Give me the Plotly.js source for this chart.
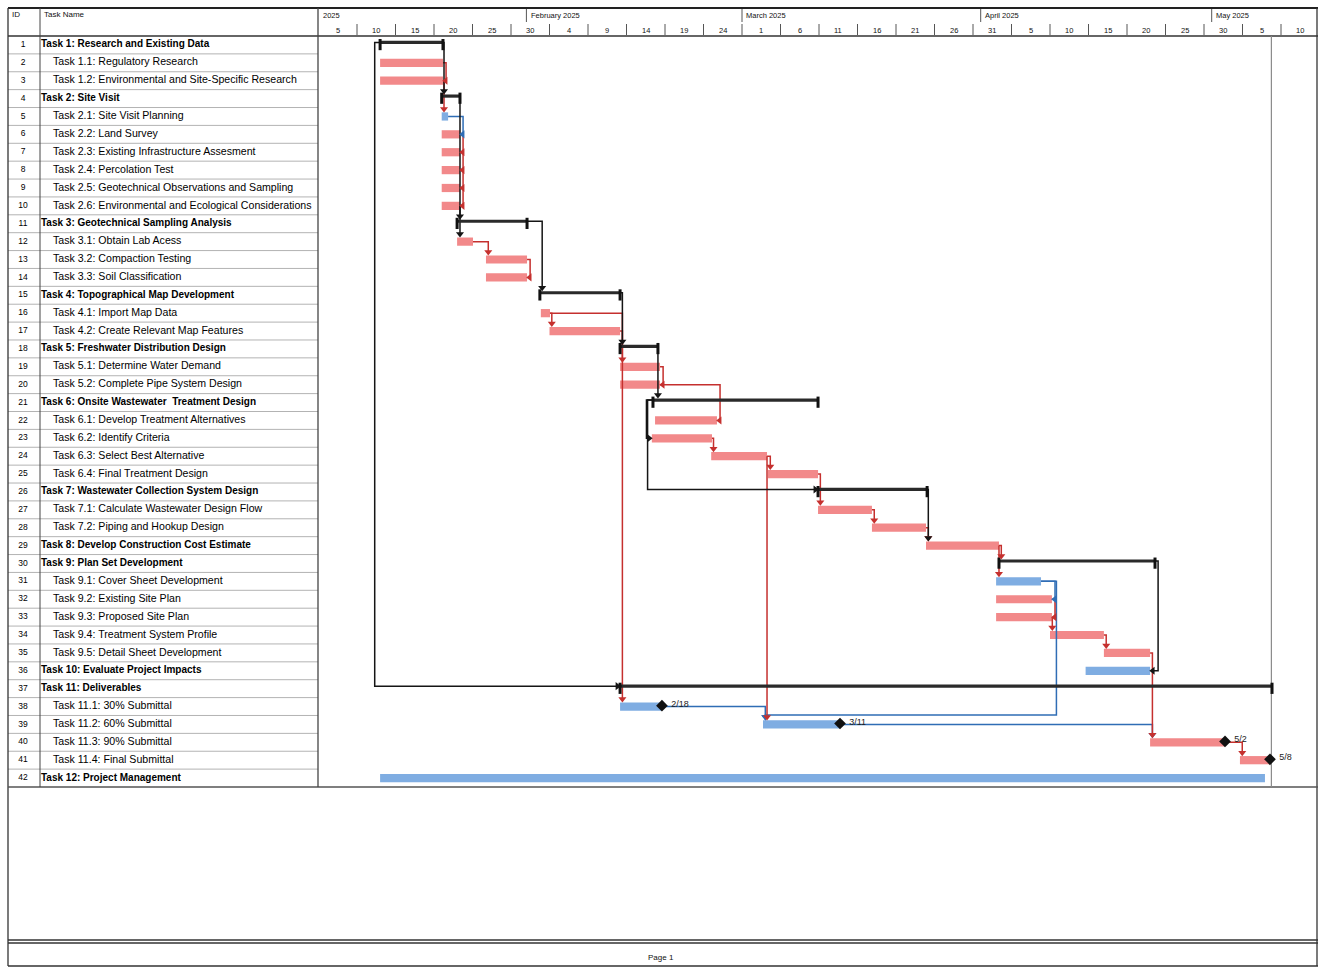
<!DOCTYPE html>
<html>
<head>
<meta charset="utf-8">
<script src="https://cdn.plot.ly/plotly-3.0.1.min.js"></script>
<style>
html,body{margin:0;padding:0;background:#ffffff;}
#chart{width:1318px;height:967px;}
</style>
</head>
<body>
<div id="chart"></div>
<script>
// ---------------- DATA ----------------
const taskIds = [1,2,3,4,5,6,7,8,9,10,11,12,13,14,15,16,17,18,19,20,21,22,23,24,25,26,27,28,29,30,31,32,33,34,35,36,37,38,39,40,41,42];

const taskNames = [
  'Task 1: Research and Existing Data',
  'Task 1.1: Regulatory Research',
  'Task 1.2: Environmental and Site-Specific Research',
  'Task 2: Site Visit',
  'Task 2.1: Site Visit Planning',
  'Task 2.2: Land Survey',
  'Task 2.3: Existing Infrastructure Assesment',
  'Task 2.4: Percolation Test',
  'Task 2.5: Geotechnical Observations and Sampling',
  'Task 2.6: Environmental and Ecological Considerations',
  'Task 3: Geotechnical Sampling Analysis',
  'Task 3.1: Obtain Lab Acess',
  'Task 3.2: Compaction Testing',
  'Task 3.3: Soil Classification',
  'Task 4: Topographical Map Development',
  'Task 4.1: Import Map Data',
  'Task 4.2: Create Relevant Map Features',
  'Task 5: Freshwater Distribution Design',
  'Task 5.1: Determine Water Demand',
  'Task 5.2: Complete Pipe System Design',
  'Task 6: Onsite Wastewater  Treatment Design',
  'Task 6.1: Develop Treatment Alternatives',
  'Task 6.2: Identify Criteria',
  'Task 6.3: Select Best Alternative',
  'Task 6.4: Final Treatment Design',
  'Task 7: Wastewater Collection System Design',
  'Task 7.1: Calculate Wastewater Design Flow',
  'Task 7.2: Piping and Hookup Design',
  'Task 8: Develop Construction Cost Estimate',
  'Task 9: Plan Set Development',
  'Task 9.1: Cover Sheet Development',
  'Task 9.2: Existing Site Plan',
  'Task 9.3: Proposed Site Plan',
  'Task 9.4: Treatment System Profile',
  'Task 9.5: Detail Sheet Development',
  'Task 10: Evaluate Project Impacts',
  'Task 11: Deliverables',
  'Task 11.1: 30% Submittal',
  'Task 11.2: 60% Submittal',
  'Task 11.3: 90% Submittal',
  'Task 11.4: Final Submittal',
  'Task 12: Project Management'
];

// 0 = top level (bold), 1 = subtask (indented)
const taskLevels = [0,1,1,0,1,1,1,1,1,1,0,1,1,1,0,1,1,0,1,1,0,1,1,1,1,0,1,1,0,0,1,1,1,1,1,0,0,1,1,1,1,0];

// s = summary, c = critical task, n = non-critical task
const taskTypes = ['s','c','c','s','n','c','c','c','c','c','s','c','c','c','s','c','c','s','c','c','s','c','c','c','c','s','c','c','c','s','n','c','c','c','c','n','s','n','n','c','c','n'];

const taskStarts = [
  '2025-01-13 00:00','2025-01-13 00:00','2025-01-13 00:00',
  '2025-01-21 00:00','2025-01-21 00:00','2025-01-21 00:00','2025-01-21 00:00','2025-01-21 00:00','2025-01-21 00:00','2025-01-21 00:00',
  '2025-01-23 00:00','2025-01-23 00:00','2025-01-26 18:00','2025-01-26 18:00',
  '2025-02-02 18:00','2025-02-02 21:00','2025-02-04 00:00',
  '2025-02-13 04:00','2025-02-13 04:00','2025-02-13 04:00',
  '2025-02-17 10:30','2025-02-17 17:00','2025-02-17 07:00','2025-02-25 00:00','2025-03-04 09:00',
  '2025-03-10 21:00','2025-03-10 21:00','2025-03-17 21:00',
  '2025-03-24 21:30',
  '2025-04-03 09:00','2025-04-03 00:00','2025-04-03 00:00','2025-04-03 00:00','2025-04-10 00:00','2025-04-17 00:00',
  '2025-04-14 15:00',
  '2025-02-13 04:00','2025-02-13 04:00','2025-03-03 17:30','2025-04-23 00:00','2025-05-04 16:00',
  '2025-01-13 00:00'
];

const taskFinishes = [
  '2025-01-21 04:00','2025-01-21 04:00','2025-01-21 04:00',
  '2025-01-23 09:00','2025-01-21 20:00','2025-01-23 09:00','2025-01-23 09:00','2025-01-23 09:00','2025-01-23 09:00','2025-01-23 09:00',
  '2025-02-01 02:00','2025-01-25 01:30','2025-02-01 02:00','2025-02-01 02:00',
  '2025-02-13 04:00','2025-02-04 01:30','2025-02-13 04:00',
  '2025-02-18 02:00','2025-02-18 08:30','2025-02-18 08:30',
  '2025-03-10 21:00','2025-02-25 18:00','2025-02-25 02:30','2025-03-04 06:00','2025-03-10 21:00',
  '2025-03-25 01:00','2025-03-17 21:00','2025-03-24 21:30',
  '2025-04-03 09:00',
  '2025-04-23 15:20','2025-04-08 20:00','2025-04-10 06:00','2025-04-10 06:00','2025-04-17 00:00','2025-04-23 00:00',
  '2025-04-23 00:00',
  '2025-05-08 20:00','2025-02-18 14:30','2025-03-13 17:30','2025-05-02 17:30','2025-05-08 13:40',
  '2025-05-07 22:00'
];

const milestoneTasks  = [38, 39, 40, 41];
const milestoneLabels = ['2/18', '3/11', '5/2', '5/8'];

// dependency links: from task, to task, type, colour class (r critical, b non-critical, k summary)
const linkFrom  = [1, 2, 3, 5, 6, 7, 8, 9, 4, 10, 12, 13, 11, 16, 16, 15, 17, 19, 18, 20, 21, 21, 23, 24, 24, 25, 27, 26, 28, 29, 29, 31, 31, 32, 33, 34, 30, 35, 39, 38, 40, 1];
const linkTo    = [4, 3, 5, 6, 7, 8, 9, 10, 11, 12, 13, 14, 15, 17, 19, 18, 38, 20, 21, 22, 23, 26, 24, 25, 39, 27, 28, 29, 29, 30, 31, 39, 32, 33, 34, 35, 36, 40, 40, 39, 41, 37];
const linkTypes = ['FS','FF','FS','FF','FF','FF','FF','FF','FS','FS','FS','FF','FS','FS','FS','FS','FS','FF','FS','FF','SS','SS','FS','FS','FS','FS','FS','FS','FS','FS','FS','FS','FF','FF','FS','FS','FF','FS','FS','FS','FS','SS'];
const linkColors = ['k','r','r','b','r','r','r','r','k','k','r','r','k','r','r','k','r','r','k','r','k','k','r','r','r','r','r','k','r','r','r','b','b','r','r','r','k','r','b','b','r','k'];

// timescale
const dayTicks  = ['2025-01-05','2025-01-10','2025-01-15','2025-01-20','2025-01-25','2025-01-30','2025-02-04','2025-02-09','2025-02-14','2025-02-19','2025-02-24','2025-03-01','2025-03-06','2025-03-11','2025-03-16','2025-03-21','2025-03-26','2025-03-31','2025-04-05','2025-04-10','2025-04-15','2025-04-20','2025-04-25','2025-04-30','2025-05-05','2025-05-10'];
const dayLabels = ['5','10','15','20','25','30','4','9','14','19','24','1','6','11','16','21','26','31','5','10','15','20','25','30','5','10'];
const monthStarts = ['2025-01-05','2025-02-01','2025-03-01','2025-04-01','2025-05-01'];
const monthLabels = ['2025','February 2025','March 2025','April 2025','May 2025'];
const viewRange = ['2025-01-04 22:27','2025-05-14 19:19'];
const finishLineDate = '2025-05-08 18:00';

// ---------------- HELPERS ----------------
const W = 1318, H = 967;
const px = x => x / W;
const py = y => 1 - y / H;
const DAY = 86400000;
const FONT = 'Liberation Sans, Arial, sans-serif';
const COL = {r:'#C5302E', b:'#2F6DB5', k:'#151515'};
const BAR_RED = '#F2898A', BAR_BLUE = '#7FADE2';

function toMs(s){
  const [d,t] = s.split(' ');
  const [Y,M,D] = d.split('-').map(Number);
  const [h,m] = (t || '00:00').split(':').map(Number);
  return Date.UTC(Y, M-1, D, h, m);
}
function toStr(ms){ return new Date(ms).toISOString().slice(0,19).replace('T',' '); }

const N = taskIds.length;
const sMs = taskStarts.map(toMs), fMs = taskFinishes.map(toMs);
const idx = id => id - 1;
const isSum = id => taskTypes[idx(id)] === 's';
const lineY = id => isSum(id) ? id - 0.14 : id;

const traces = [];

// ---------------- TASK BARS ----------------
const barY = [], barBase = [], barLen = [], barCol = [];
for (let k = 0; k < N; k++){
  if (taskTypes[k] === 's') continue;
  barY.push(taskIds[k]);
  barBase.push(taskStarts[k]);
  barLen.push(fMs[k] - sMs[k]);
  barCol.push(taskTypes[k] === 'c' ? BAR_RED : BAR_BLUE);
}
traces.push({
  type:'bar', orientation:'h', y:barY, base:barBase, x:barLen, width:0.46,
  marker:{color:barCol, line:{width:0}}, hoverinfo:'skip', xaxis:'x', yaxis:'y'
});

// ---------------- LINKS ----------------
const offFS = 0.3*DAY, tolFS = 0.8*DAY, offFF = 0.4*DAY, offSS = 0.7*DAY, offBack = 2*DAY, tipGap = 0.35*DAY;
const linkLines = {r:{x:[],y:[]}, b:{x:[],y:[]}, k:{x:[],y:[]}};
const arrows = {r:{x:[],y:[],s:[]}, b:{x:[],y:[],s:[]}, k:{x:[],y:[],s:[]}};
for (let j = 0; j < linkFrom.length; j++){
  const a = linkFrom[j], b = linkTo[j], c = linkColors[j];
  const pr = lineY(a), sr = lineY(b);
  const ps = sMs[idx(a)], pe = fMs[idx(a)], ss = sMs[idx(b)], se = fMs[idx(b)];
  let pts = [], tip, sym;
  if (linkTypes[j] === 'FS'){
    if (ss >= pe - tolFS){
      const X = Math.max(ss + offFS, pe);
      pts = [[pe,pr],[X,pr],[X,b-0.42]];
      tip = [X,b-0.42]; sym = 'triangle-down';
    } else {
      const X1 = pe + offBack, X2 = ss + offFS;
      pts = [[pe,pr],[X1,pr],[X1,b-0.52],[X2,b-0.52],[X2,b-0.42]];
      tip = [X2,b-0.42]; sym = 'triangle-down';
    }
  } else if (linkTypes[j] === 'FF'){
    const X = Math.max(pe, se) + offFF;
    pts = [[pe,pr],[X,pr],[X,sr],[se+tipGap,sr]];
    tip = [se+tipGap,sr]; sym = 'triangle-left';
  } else {
    const X = Math.min(ps, ss) - offSS;
    pts = [[ps,pr],[X,pr],[X,sr],[ss-tipGap,sr]];
    tip = [ss-tipGap,sr]; sym = 'triangle-right';
  }
  pts.forEach(p => { linkLines[c].x.push(toStr(p[0])); linkLines[c].y.push(p[1]); });
  linkLines[c].x.push(null); linkLines[c].y.push(null);
  arrows[c].x.push(toStr(tip[0])); arrows[c].y.push(tip[1]); arrows[c].s.push(sym);
}
['b','r','k'].forEach(c => {
  traces.push({type:'scatter', mode:'lines', x:linkLines[c].x, y:linkLines[c].y, connectgaps:false,
    line:{color:COL[c], width:1.5}, hoverinfo:'skip', xaxis:'x', yaxis:'y'});
});

// ---------------- SUMMARY BARS ----------------
const sumX = [], sumY = [], capX = [], capY = [];
for (let k = 0; k < N; k++){
  if (taskTypes[k] !== 's') continue;
  sumX.push(taskStarts[k], taskFinishes[k], null);
  sumY.push(taskIds[k]-0.14, taskIds[k]-0.14, null);
  capX.push(taskStarts[k], taskFinishes[k]);
  capY.push(taskIds[k]-0.02, taskIds[k]-0.02);
}
traces.push({type:'scatter', mode:'lines', x:sumX, y:sumY, line:{color:'#2a2a2a', width:3.2}, hoverinfo:'skip', xaxis:'x', yaxis:'y'});
traces.push({type:'scatter', mode:'markers', x:capX, y:capY,
  marker:{symbol:'line-ns', size:8, line:{color:'#111', width:3}}, hoverinfo:'skip', xaxis:'x', yaxis:'y'});

// arrow heads
['b','r','k'].forEach(c => {
  traces.push({type:'scatter', mode:'markers', x:arrows[c].x, y:arrows[c].y,
    marker:{symbol:arrows[c].s, size:7, color:COL[c]}, hoverinfo:'skip', xaxis:'x', yaxis:'y'});
});

// ---------------- MILESTONES ----------------
traces.push({
  type:'scatter', mode:'markers',
  x: milestoneTasks.map(id => taskFinishes[idx(id)]),
  y: milestoneTasks.map(id => id - 0.05),
  marker:{symbol:'diamond', size:9, color:'#111'},
  cliponaxis:false, hoverinfo:'skip', xaxis:'x', yaxis:'y'
});
traces.push({
  type:'scatter', mode:'text',
  x: milestoneTasks.map(id => toStr(fMs[idx(id)] + 1.2*DAY)),
  y: milestoneTasks.map(id => id - 0.12),
  text: milestoneLabels, textposition:'middle right',
  textfont:{family:FONT, size:9, color:'#222'},
  cliponaxis:false, hoverinfo:'skip', xaxis:'x', yaxis:'y'
});

// ---------------- TABLE TEXT ----------------
const boldX=[], boldY=[], boldT=[], regX=[], regY=[], regT=[];
for (let k = 0; k < N; k++){
  if (taskLevels[k] === 0){ boldX.push(41); boldY.push(taskIds[k]); boldT.push(taskNames[k]); }
  else { regX.push(53); regY.push(taskIds[k]); regT.push(taskNames[k]); }
}
traces.push({type:'scatter', mode:'text', x:boldX, y:boldY, text:boldT, textposition:'middle right',
  textfont:{family:FONT, size:10, color:'#000', weight:'bold'}, cliponaxis:false, hoverinfo:'skip', xaxis:'x2', yaxis:'y'});
traces.push({type:'scatter', mode:'text', x:regX, y:regY, text:regT, textposition:'middle right',
  textfont:{family:FONT, size:10.6, color:'#000'}, cliponaxis:false, hoverinfo:'skip', xaxis:'x2', yaxis:'y'});
traces.push({type:'scatter', mode:'text', x:taskIds.map(() => 23), y:taskIds, text:taskIds.map(String), textposition:'middle center',
  textfont:{family:FONT, size:8.5, color:'#000'}, cliponaxis:false, hoverinfo:'skip', xaxis:'x2', yaxis:'y'});

// ---------------- SHAPES ----------------
const shapes = [];
function L(x0,y0,x1,y1,color,width,xref,yref){
  shapes.push({type:'line', xref:xref||'paper', yref:yref||'paper', x0, y0, x1, y1, line:{color, width}, layer:'below'});
}
// table row separators
for (let k = 1; k < N; k++) L(px(8), taskIds[k]-0.5, px(318), taskIds[k]-0.5, '#b3b3b3', 1, 'paper', 'y');
// frame & grid
L(px(8),py(8),px(1318),py(8),'#222',2.2);
L(px(8),py(8),px(8),py(966),'#333',1.3);
L(px(1317),py(8),px(1317),py(966),'#333',1.3);
L(px(8),py(966),px(1318),py(966),'#333',1.3);
L(px(8),py(36),px(1318),py(36),'#333',1.3);
L(px(8),py(787),px(1318),py(787),'#555',1.6);
L(px(8),py(940),px(1318),py(940),'#333',1.3);
L(px(8),py(943),px(1318),py(943),'#333',1.3);
L(px(40),py(8),px(40),py(787),'#444',1);
L(px(318),py(8),px(318),py(787),'#444',1.3);
// timescale ticks
dayTicks.slice(1).forEach(d => L(d, py(24), d, py(35), '#555', 1, 'x', 'paper'));
monthStarts.slice(1).forEach(d => L(d, py(9), d, py(22), '#555', 1, 'x', 'paper'));
// project finish line
L(finishLineDate, py(36), finishLineDate, py(787), '#8a8a8a', 1.2, 'x', 'paper');

// ---------------- ANNOTATIONS ----------------
const ann = [];
function T(x, y, text, size, opts){
  ann.push(Object.assign({x, y, text, showarrow:false, xref:'paper', yref:'paper',
    font:{family:FONT, size, color:'#111'}, xanchor:'left', yanchor:'middle'}, opts||{}));
}
T(px(10), py(14), 'ID', 8);
T(px(42), py(14), 'Task Name', 8);
T(px(661), py(957), 'Page 1', 8, {xanchor:'center'});
dayTicks.forEach((d,k) => {
  const a = toMs(d), b = k+1 < dayTicks.length ? toMs(dayTicks[k+1]) : a + 5*DAY;
  ann.push({x:toStr((a+b)/2), y:py(30), xref:'x', yref:'paper', text:dayLabels[k], showarrow:false,
    font:{family:FONT, size:7.5, color:'#111'}, xanchor:'center', yanchor:'middle'});
});
monthStarts.forEach((d,k) => {
  ann.push({x:toStr(toMs(d) + 0.3*DAY), y:py(15), xref:'x', yref:'paper', text:monthLabels[k], showarrow:false,
    font:{family:FONT, size:7.5, color:'#111'}, xanchor:'left', yanchor:'middle'});
});

// ---------------- LAYOUT ----------------
const layout = {
  width: W, height: H,
  margin:{l:0, r:0, t:0, b:0, pad:0},
  paper_bgcolor:'#ffffff', plot_bgcolor:'rgba(0,0,0,0)',
  showlegend:false, barmode:'overlay',
  xaxis:{type:'date', domain:[318/W, 1], range:viewRange, visible:false, fixedrange:true},
  xaxis2:{domain:[0, 318/W], range:[0, 318], visible:false, anchor:'y', fixedrange:true},
  yaxis:{domain:[py(787), py(36)], range:[42.5, 0.5], visible:false, fixedrange:true},
  shapes, annotations: ann
};

Plotly.newPlot('chart', traces, layout, {staticPlot:true, displayModeBar:false});
</script>
</body>
</html>
